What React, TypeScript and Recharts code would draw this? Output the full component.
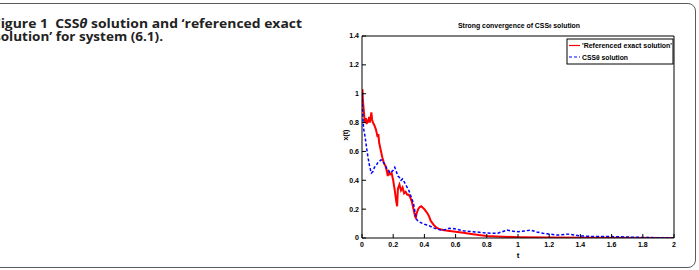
import React from 'react';
import { LineChart, Line, XAxis, YAxis } from 'recharts';

// time grid and values
const redT = [0, 0.003, 0.006, 0.01, 0.015, 0.02, 0.025, 0.03, 0.035, 0.04, 0.045, 0.05, 0.055, 0.06, 0.065, 0.07, 0.08, 0.09, 0.1, 0.105, 0.11, 0.12, 0.13, 0.14, 0.15, 0.16, 0.165, 0.17, 0.18, 0.19, 0.2, 0.21, 0.22, 0.225, 0.23, 0.24, 0.25, 0.26, 0.27, 0.28, 0.29, 0.3, 0.31, 0.32, 0.33, 0.34, 0.345, 0.35, 0.36, 0.37, 0.38, 0.39, 0.4, 0.41, 0.42, 0.43, 0.44, 0.45, 0.46, 0.48, 0.5, 0.52, 0.55, 0.6, 0.65, 0.7, 0.75, 0.8, 0.9, 1.0, 1.2, 1.5, 2.0];
const redX = [1.0, 1.03, 0.95, 0.9, 0.84, 0.8, 0.83, 0.79, 0.82, 0.8, 0.84, 0.8, 0.83, 0.87, 0.82, 0.8, 0.78, 0.75, 0.7, 0.72, 0.66, 0.61, 0.56, 0.52, 0.5, 0.46, 0.43, 0.46, 0.44, 0.45, 0.4, 0.33, 0.25, 0.22, 0.34, 0.37, 0.33, 0.35, 0.31, 0.32, 0.3, 0.3, 0.28, 0.25, 0.2, 0.15, 0.14, 0.17, 0.2, 0.215, 0.22, 0.21, 0.2, 0.185, 0.17, 0.15, 0.12, 0.105, 0.09, 0.07, 0.06, 0.055, 0.05, 0.044, 0.036, 0.028, 0.02, 0.014, 0.009, 0.006, 0.003, 0.001, 0];

const blueT = [0, 0.005, 0.01, 0.02, 0.03, 0.04, 0.05, 0.06, 0.07, 0.08, 0.09, 0.1, 0.11, 0.12, 0.13, 0.14, 0.15, 0.16, 0.17, 0.18, 0.19, 0.2, 0.21, 0.22, 0.23, 0.24, 0.25, 0.26, 0.27, 0.28, 0.29, 0.3, 0.31, 0.32, 0.33, 0.34, 0.35, 0.36, 0.37, 0.38, 0.39, 0.4, 0.42, 0.44, 0.46, 0.48, 0.5, 0.52, 0.54, 0.56, 0.58, 0.6, 0.65, 0.7, 0.75, 0.8, 0.87, 0.93, 0.97, 1.0, 1.05, 1.08, 1.12, 1.16, 1.25, 1.33, 1.4, 1.5, 1.6, 1.75, 1.9, 2.0];
const blueX = [1.0, 0.86, 0.76, 0.7, 0.62, 0.55, 0.49, 0.45, 0.46, 0.49, 0.5, 0.52, 0.53, 0.54, 0.54, 0.52, 0.5, 0.48, 0.47, 0.45, 0.46, 0.47, 0.49, 0.46, 0.43, 0.42, 0.4, 0.41, 0.39, 0.37, 0.35, 0.33, 0.3, 0.27, 0.24, 0.18, 0.13, 0.115, 0.11, 0.105, 0.1, 0.095, 0.09, 0.08, 0.07, 0.062, 0.057, 0.055, 0.06, 0.067, 0.066, 0.062, 0.05, 0.045, 0.04, 0.034, 0.033, 0.055, 0.046, 0.044, 0.05, 0.055, 0.042, 0.033, 0.02, 0.027, 0.014, 0.01, 0.01, 0.005, 0.002, 0];

const xTicks = [0, 0.2, 0.4, 0.6, 0.8, 1, 1.2, 1.4, 1.6, 1.8, 2];
const yTicks = [0, 0.2, 0.4, 0.6, 0.8, 1, 1.2, 1.4];

const redData = redT.map((t, i) => ({ t, x: redX[i] }));
const blueData = blueT.map((t, i) => ({ t, x: blueX[i] }));

const series = [
  { name: "'Referenced exact solution'", color: '#ff0000', dash: undefined, width: 2, data: redData },
  { name: 'CSS\u03b8 solution', color: '#0000ff', dash: '3 2', width: 1.5, data: blueData },
];

const axisFont = { fontSize: 7, fontWeight: 700, fill: '#000', fontFamily: 'Liberation Sans, Arial, sans-serif' };

export default function App() {
  return (
    <div style={{ position: 'absolute', left: 0, top: 0, width: 699, height: 270, overflow: 'hidden', background: '#fff' }}>
      {/* rounded frame of the figure box */}
      <div style={{ position: 'absolute', left: -30, top: 3, width: 726, height: 265, boxSizing: 'border-box', border: '1.5px solid #5a5a5a', borderRadius: 8 }} />

      <LineChart width={699} height={270} margin={{ top: 35, right: 24, bottom: 12, left: 332 }} style={{ position: 'absolute', left: 0, top: 0 }}>
        <XAxis dataKey="t" type="number" domain={[0, 2]} ticks={xTicks} allowDataOverflow height={20}
          stroke="#000" tickSize={-4} tickMargin={8} tick={axisFont} />
        {/* top / right axes only close the box (need size > 0 or recharts skips them) */}
        <XAxis xAxisId="top" orientation="top" dataKey="t" type="number" domain={[0, 2]} ticks={xTicks} allowDataOverflow height={1}
          stroke="#000" tickSize={-4} tick={false} />
        <YAxis type="number" domain={[0, 1.4]} ticks={yTicks} allowDataOverflow width={30}
          stroke="#000" tickSize={-4} tickMargin={7} tick={axisFont} />
        <YAxis yAxisId="r" orientation="right" type="number" domain={[0, 1.4]} ticks={yTicks} allowDataOverflow width={1}
          stroke="#000" tickSize={-4} tick={false} />
        <Line data={redData} dataKey="x" xAxisId="top" yAxisId="r" stroke="none" dot={false} activeDot={false}
          legendType="none" isAnimationActive={false} />
        {series.map((s) => (
          <Line key={s.name} data={s.data} dataKey="x" name={s.name} type="linear" stroke={s.color}
            strokeWidth={s.width} strokeDasharray={s.dash} dot={false} isAnimationActive={false} />
        ))}
      </LineChart>

      <svg width={699} height={270} style={{ position: 'absolute', left: 0, top: 0, pointerEvents: 'none' }}>
        {/* caption, cut off at the left edge */}
        <g fontFamily="'Open Sans', 'Noto Sans', sans-serif" fontWeight={700} fontSize={12} fill="#222">
          <text x={-7} y={27.5} textLength={309} lengthAdjust="spacingAndGlyphs">
            {'Figure 1\u00a0\u00a0CSS'}<tspan fontStyle="italic">θ</tspan>{' solution and ‘referenced exact'}
          </text>
          <text x={-6} y={41} textLength={169} lengthAdjust="spacingAndGlyphs">
            solution’ for system (6.1).
          </text>
        </g>

        <g fontFamily="Liberation Sans, Arial, sans-serif" fontWeight={700} fill="#000">
          <text x={458} y={28} fontSize={8} textLength={122} lengthAdjust="spacingAndGlyphs">
            {'Strong convergence of CSS'}<tspan fontSize={5}>θ</tspan>{' solution'}
          </text>
          <text x={518} y={258} fontSize={8} textAnchor="middle">t</text>
          <text x={0} y={0} fontSize={7} textAnchor="middle" transform="translate(347.5 135) rotate(-90)">x(t)</text>
        </g>

        {/* legend */}
        <rect x={567} y={39} width={106} height={25} fill="#fff" stroke="#000" strokeWidth={1} />
        {series.map((s, i) => (
          <g key={s.name}>
            <line x1={569} x2={580} y1={45.5 + i * 11.5} y2={45.5 + i * 11.5} stroke={s.color} strokeWidth={1.2} strokeDasharray={s.dash} />
            <text x={582} y={48 + i * 11.5} fontSize={7} fontWeight={700} fontFamily="Liberation Sans, Arial, sans-serif" fill="#000"
              textLength={i === 0 ? 90 : 46} lengthAdjust="spacingAndGlyphs">{s.name}</text>
          </g>
        ))}
      </svg>
    </div>
  );
}
